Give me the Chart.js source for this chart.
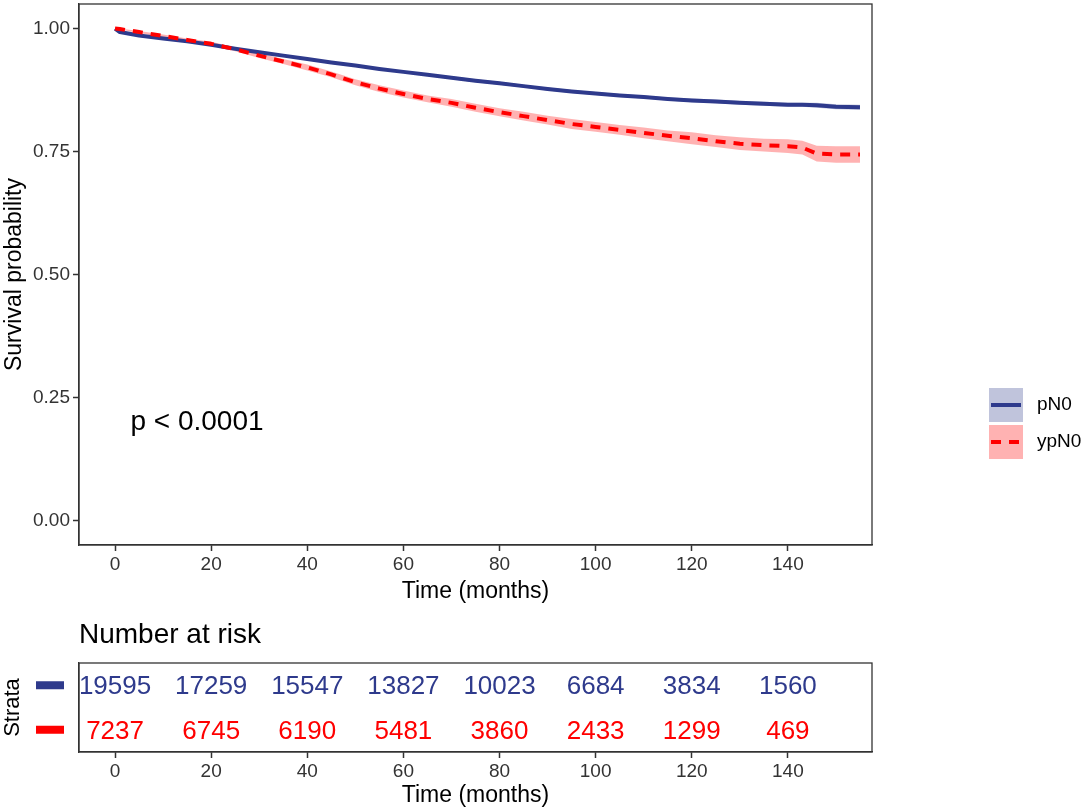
<!DOCTYPE html>
<html>
<head>
<meta charset="utf-8">
<script src="https://cdn.jsdelivr.net/npm/chart.js@4.4.1/dist/chart.umd.min.js"></script>
<style>
  html, body { margin: 0; padding: 0; background: #fff; }
  #wrap { position: relative; width: 1084px; height: 810px; }
  #kmBox { position: absolute; left: 0; top: 0; width: 1084px; height: 610px; }
  #riskBox { position: absolute; left: 0; top: 610px; width: 1084px; height: 200px; }
</style>
</head>
<body>
<div id="wrap">
  <div id="kmBox"><canvas id="kmChart"></canvas></div>
  <div id="riskBox"><canvas id="riskChart"></canvas></div>
</div>
<script>
// survival curves (months)
const times     = [0, 1, 5, 10, 15, 20, 25, 30, 35, 40, 45, 50, 55, 60, 65, 70, 75, 80, 85, 90, 95, 100, 105, 110, 115, 120, 125, 130, 135, 140, 143, 146, 150, 155];
const survPN0   = [1.000, 0.993, 0.986, 0.980, 0.974, 0.967, 0.959, 0.952, 0.945, 0.938, 0.931, 0.925, 0.918, 0.912, 0.906, 0.900, 0.894, 0.889, 0.883, 0.877, 0.872, 0.868, 0.864, 0.861, 0.857, 0.854, 0.852, 0.849, 0.847, 0.845, 0.845, 0.844, 0.841, 0.840];
const ciPN0     = [0, 0.001, 0.001, 0.001, 0.002, 0.002, 0.002, 0.002, 0.002, 0.002, 0.002, 0.002, 0.002, 0.002, 0.002, 0.003, 0.003, 0.003, 0.003, 0.003, 0.003, 0.003, 0.003, 0.003, 0.003, 0.004, 0.004, 0.004, 0.004, 0.004, 0.004, 0.005, 0.005, 0.005];
const survYpN0  = [1.000, 0.999, 0.993, 0.985, 0.977, 0.969, 0.958, 0.945, 0.933, 0.921, 0.907, 0.891, 0.878, 0.867, 0.857, 0.849, 0.839, 0.830, 0.822, 0.814, 0.806, 0.800, 0.794, 0.788, 0.782, 0.777, 0.771, 0.766, 0.763, 0.761, 0.758, 0.746, 0.744, 0.744];
const ciYpN0    = [0, 0.001, 0.002, 0.003, 0.003, 0.004, 0.004, 0.005, 0.005, 0.006, 0.006, 0.006, 0.007, 0.007, 0.007, 0.008, 0.008, 0.008, 0.009, 0.009, 0.010, 0.010, 0.010, 0.011, 0.011, 0.012, 0.012, 0.013, 0.013, 0.014, 0.014, 0.016, 0.017, 0.017];

const xTicks = [0, 20, 40, 60, 80, 100, 120, 140];
const yTicks = [0, 0.25, 0.5, 0.75, 1];

// number at risk table
const strata    = ['pN0', 'ypN0'];
const riskTimes = [0, 20, 40, 60, 80, 100, 120, 140];
const riskPN0   = [19595, 17259, 15547, 13827, 10023, 6684, 3834, 1560];
const riskYpN0  = [7237, 6745, 6190, 5481, 3860, 2433, 1299, 469];

const pText = 'p < 0.0001';

const FONT = "'Liberation Sans', Arial, sans-serif";
const BLUE = '#2E3A8C';
const RED = '#FF0000';
const BLUE_BAND = 'rgba(46,58,140,0.3)';
const RED_BAND = 'rgba(255,0,0,0.3)';
const AXIS = '#333333';

function pts(vals, ci, sign) {
  return times.map((t, i) => ({ x: t, y: vals[i] + sign * (ci ? ci[i] : 0) }));
}

function xAxis(h, titlePad) {
  return {
    type: 'linear', min: -7.5, max: 157.5,
    afterBuildTicks: s => { s.ticks = xTicks.map(v => ({ value: v })); },
    afterFit: s => { s.height = h; s.paddingLeft = 0; s.paddingRight = 0; },
    grid: { drawOnChartArea: false, drawTicks: true, tickLength: 6, tickWidth: 1.5, tickColor: AXIS },
    border: { display: true, color: AXIS, width: 1.3 },
    ticks: { color: '#333', font: { family: FONT, size: 19 }, padding: 2, maxRotation: 0 },
    title: { display: true, text: 'Time (months)', color: '#000', font: { family: FONT, size: 23 }, padding: { top: 0, bottom: titlePad } }
  };
}

const boxPlugin = {
  id: 'panelBox',
  afterDraw(chart) {
    const { ctx, chartArea: a } = chart;
    ctx.save();
    ctx.strokeStyle = AXIS;
    ctx.lineWidth = 1.3;
    ctx.strokeRect(a.left, a.top, a.right - a.left, a.bottom - a.top);
    ctx.restore();
  }
};

const kmExtras = {
  id: 'kmExtras',
  afterDraw(chart) {
    const { ctx } = chart;
    const xs = chart.scales.x, ys = chart.scales.y;
    ctx.save();
    // p value
    ctx.fillStyle = '#000';
    ctx.font = `28px ${FONT}`;
    ctx.textAlign = 'left';
    ctx.textBaseline = 'middle';
    ctx.fillText(pText, xs.getPixelForValue(3.2), ys.getPixelForValue(0.2));

    // legend
    const keys = [
      { label: strata[0], band: BLUE_BAND, color: BLUE, dash: [] },
      { label: strata[1], band: RED_BAND, color: RED, dash: [10, 8] }
    ];
    keys.forEach((k, i) => {
      const top = 388 + i * 37;
      ctx.fillStyle = k.band;
      ctx.fillRect(989, top, 34, 34);
      ctx.strokeStyle = k.color;
      ctx.lineWidth = 4;
      ctx.setLineDash(k.dash);
      ctx.beginPath();
      ctx.moveTo(991, top + 17);
      ctx.lineTo(1021, top + 17);
      ctx.stroke();
      ctx.setLineDash([]);
      ctx.fillStyle = '#000';
      ctx.font = `19px ${FONT}`;
      ctx.fillText(k.label, 1037, top + 17);
    });
    ctx.restore();
  }
};

new Chart(document.getElementById('kmChart'), {
  type: 'line',
  data: {
    datasets: [
      { label: 'pN0', data: pts(survPN0, null, 0), borderColor: BLUE, borderWidth: 4, pointRadius: 0, fill: false, order: 1 },
      { label: 'ypN0', data: pts(survYpN0, null, 0), borderColor: RED, borderWidth: 4, borderDash: [10, 8], pointRadius: 0, fill: false, order: 0 },
      { label: 'pN0 lower', data: pts(survPN0, ciPN0, -1), borderWidth: 0, pointRadius: 0, fill: false, order: 5 },
      { label: 'pN0 upper', data: pts(survPN0, ciPN0, 1), borderWidth: 0, pointRadius: 0, fill: '-1', backgroundColor: BLUE_BAND, order: 4 },
      { label: 'ypN0 lower', data: pts(survYpN0, ciYpN0, -1), borderWidth: 0, pointRadius: 0, fill: false, order: 3 },
      { label: 'ypN0 upper', data: pts(survYpN0, ciYpN0, 1), borderWidth: 0, pointRadius: 0, fill: '-1', backgroundColor: RED_BAND, order: 2 }
    ]
  },
  options: {
    responsive: true,
    maintainAspectRatio: false,
    animation: false,
    layout: { padding: { left: 0, right: 212, top: 4, bottom: 0 } },
    elements: { line: { tension: 0, borderCapStyle: 'butt', borderJoinStyle: 'round' } },
    plugins: { legend: { display: false }, tooltip: { enabled: false } },
    scales: {
      x: xAxis(65, 5),
      y: {
        type: 'linear', min: -0.05, max: 1.05,
        afterBuildTicks: s => { s.ticks = yTicks.map(v => ({ value: v })); },
        afterFit: s => { s.width = 79; s.paddingTop = 0; s.paddingBottom = 0; },
        grid: { drawOnChartArea: false, drawTicks: true, tickLength: 6, tickWidth: 1.5, tickColor: AXIS },
        border: { display: true, color: AXIS, width: 1.3 },
        ticks: { color: '#333', font: { family: FONT, size: 19 }, padding: 3, callback: v => Number(v).toFixed(2) },
        title: { display: true, text: 'Survival probability', color: '#000', font: { family: FONT, size: 23 }, padding: { top: 1, bottom: 0 } }
      }
    }
  },
  plugins: [boxPlugin, kmExtras]
});

const riskExtras = {
  id: 'riskExtras',
  afterDraw(chart) {
    const { ctx, chartArea: a } = chart;
    const xs = chart.scales.x, ys = chart.scales.y;
    ctx.save();
    ctx.fillStyle = '#000';
    ctx.font = `28px ${FONT}`;
    ctx.textAlign = 'left';
    ctx.textBaseline = 'middle';
    ctx.fillText('Number at risk', a.left, 25);

    const rows = [
      { vals: riskPN0, color: BLUE },
      { vals: riskYpN0, color: RED }
    ];
    rows.forEach((r, ri) => {
      const y = ys.getPixelForValue(ri);
      ctx.fillStyle = r.color;
      ctx.fillRect(36, y - 4, 28, 8);
      ctx.font = `26px ${FONT}`;
      ctx.textAlign = 'center';
      r.vals.forEach((v, i) => {
        ctx.fillText(String(v), xs.getPixelForValue(riskTimes[i]), y + 2);
      });
    });
    ctx.restore();
  }
};

new Chart(document.getElementById('riskChart'), {
  type: 'line',
  data: { labels: strata, datasets: [] },
  options: {
    responsive: true,
    maintainAspectRatio: false,
    animation: false,
    layout: { padding: { left: 0, right: 212, top: 53, bottom: 0 } },
    plugins: { legend: { display: false }, tooltip: { enabled: false } },
    scales: {
      x: xAxis(58, 1),
      y: {
        type: 'category', labels: strata, offset: true,
        afterFit: s => { s.width = 79; },
        grid: { display: false, drawTicks: false },
        border: { display: true, color: AXIS, width: 1.3 },
        ticks: { display: false },
        title: { display: true, text: 'Strata', color: '#000', font: { family: FONT, size: 22 }, padding: 0 }
      }
    }
  },
  plugins: [boxPlugin, riskExtras]
});
</script>
</body>
</html>
